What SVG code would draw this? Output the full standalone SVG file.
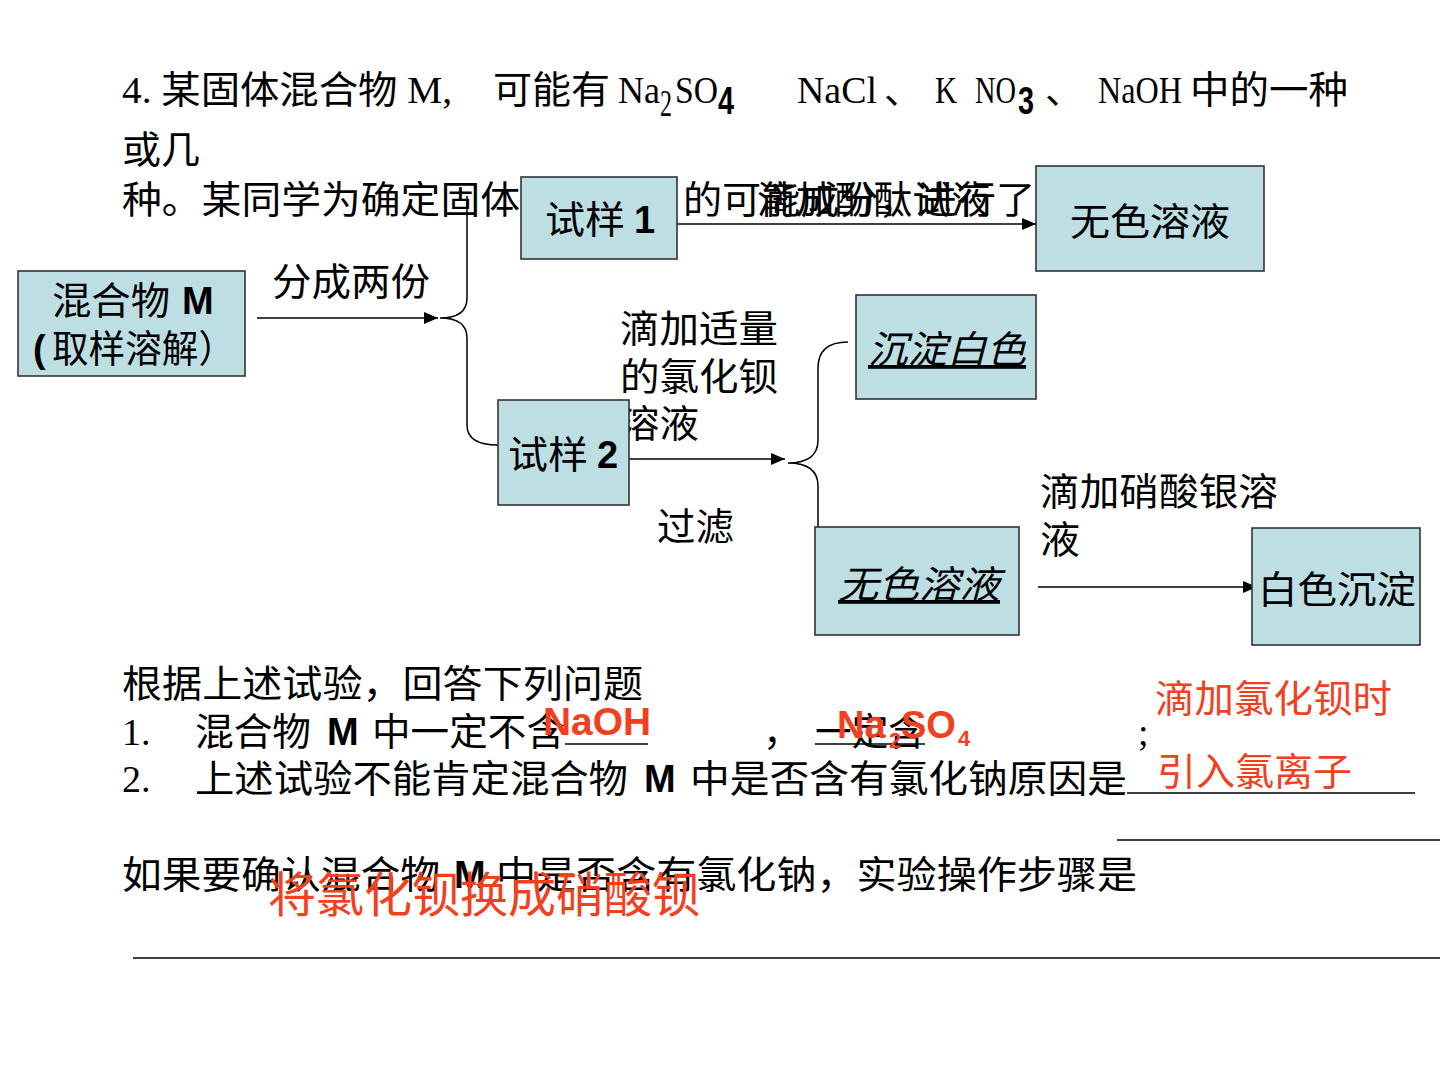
<svg xmlns="http://www.w3.org/2000/svg" width="1440" height="1080" viewBox="0 0 1440 1080">
  <defs>
    <marker id="arrow" viewBox="0 0 14 12" refX="14" refY="6" markerWidth="14" markerHeight="12" markerUnits="userSpaceOnUse" orient="auto">
      <path d="M0,0 L14,6 L0,12 Z" fill="#000"/>
    </marker>
    <style>
      .box { fill: #bddfe3; stroke: #333; stroke-width: 1.6; }
      .t { font-family: "Liberation Serif", "Noto Sans CJK SC", serif; font-size: 38px; fill: #000; }
      .s { font-family: "Liberation Sans", "Noto Sans CJK SC", sans-serif; font-size: 38px; fill: #000; }
      .b { font-family: "Liberation Sans", sans-serif; font-weight: bold; }
      .red { font-family: "Liberation Sans", "Noto Sans CJK SC", sans-serif; fill: #f2401e; }
      .conn { fill: none; stroke: #000; stroke-width: 1.5; }
      .rule { stroke: #000; stroke-width: 1.5; }
    </style>
  </defs>
  <rect width="1440" height="1080" fill="#fff"/>

  <!-- question text, top -->
  <g id="question-head">
    <text class="t" x="122" y="103" textLength="330" lengthAdjust="spacingAndGlyphs">4. 某固体混合物 M,</text>
    <text class="t" x="493" y="103" textLength="117" lengthAdjust="spacingAndGlyphs">可能有</text>
    <text class="t" x="618" y="103" font-size="36" textLength="42" lengthAdjust="spacingAndGlyphs">Na</text>
    <text class="t" x="660" y="116" font-size="26" textLength="12" lengthAdjust="spacingAndGlyphs">2</text>
    <text class="t" x="675" y="103" font-size="36" textLength="43" lengthAdjust="spacingAndGlyphs">SO</text>
    <text class="s b" x="718" y="114" font-size="30" textLength="16" lengthAdjust="spacingAndGlyphs">4</text>
    <text class="t" x="797" y="103" font-size="36" textLength="80" lengthAdjust="spacingAndGlyphs">NaCl</text>
    <text class="t" x="884" y="103">、</text>
    <text class="t" x="935" y="103" font-size="36" textLength="22" lengthAdjust="spacingAndGlyphs">K</text>
    <text class="t" x="975" y="103" font-size="36" textLength="41" lengthAdjust="spacingAndGlyphs">NO</text>
    <text class="s b" x="1018" y="114" font-size="30" textLength="16" lengthAdjust="spacingAndGlyphs">3</text>
    <text class="t" x="1045" y="103">、</text>
    <text class="t" x="1098" y="103" font-size="36" textLength="84" lengthAdjust="spacingAndGlyphs">NaOH</text>
    <text class="t" x="1190" y="103" textLength="158" lengthAdjust="spacingAndGlyphs">中的一种</text>
    <text class="t" x="122" y="163" textLength="78" lengthAdjust="spacingAndGlyphs">或几</text>
    <text class="t" x="122" y="213" textLength="398" lengthAdjust="spacingAndGlyphs">种。某同学为确定固体</text>
    <text class="t" x="683" y="213" textLength="352" lengthAdjust="spacingAndGlyphs">的可能成分，进行了</text>
  </g>

  <!-- connectors -->
  <g id="connectors">
    <line class="conn" x1="257" y1="318" x2="438" y2="318" marker-end="url(#arrow)"/>
    <path class="conn" d="M467,196 L467,298 Q467,318 440,318 Q467,318 467,338 L467,425 Q467,445 498,445"/>
    <line class="conn" x1="677" y1="224" x2="1036" y2="224" marker-end="url(#arrow)"/>
    <line class="conn" x1="629" y1="459" x2="785" y2="459" marker-end="url(#arrow)"/>
    <path class="conn" d="M848,342 Q818,342 818,368 L818,440 Q818,463 788,463 Q818,463 818,486 L818,565 Q818,585 840,587"/>
    <line class="conn" x1="1038" y1="587" x2="1257" y2="587" marker-end="url(#arrow)"/>
  </g>

  <!-- connector labels -->
  <g id="labels">
    <text class="s" x="757" y="213" textLength="233" lengthAdjust="spacingAndGlyphs">滴加酚酞试液</text>
    <text class="s" x="272" y="295" textLength="158" lengthAdjust="spacingAndGlyphs">分成两份</text>
    <text class="s" x="620" y="342" textLength="158" lengthAdjust="spacingAndGlyphs">滴加适量</text>
    <text class="s" x="620" y="390" textLength="158" lengthAdjust="spacingAndGlyphs">的氯化钡</text>
    <text class="s" x="620" y="437" textLength="79" lengthAdjust="spacingAndGlyphs">溶液</text>
    <text class="s" x="657" y="540" textLength="77" lengthAdjust="spacingAndGlyphs">过滤</text>
    <text class="s" x="1040" y="505" textLength="238" lengthAdjust="spacingAndGlyphs">滴加硝酸银溶</text>
    <text class="s" x="1040" y="553" textLength="40" lengthAdjust="spacingAndGlyphs">液</text>
  </g>

  <!-- nodes -->
  <g id="node-mixture">
    <rect class="box" x="18" y="271" width="227" height="105"/>
    <text class="s" x="52" y="314" textLength="118" lengthAdjust="spacingAndGlyphs">混合物</text>
    <text class="s b" x="182" y="314" font-size="34">M</text>
    <text class="s b" x="33" y="362" font-size="34">(</text>
    <text class="s" x="52" y="362" textLength="183" lengthAdjust="spacingAndGlyphs">取样溶解）</text>
  </g>

  <g id="node-sample1">
    <rect class="box" x="521" y="177" width="156" height="82"/>
    <text class="s" x="545" y="233" textLength="80" lengthAdjust="spacingAndGlyphs">试样</text>
    <text class="s b" x="634" y="233" font-size="34">1</text>
  </g>

  <g id="node-colorless-top">
    <rect class="box" x="1036" y="166" width="228" height="105"/>
    <text class="s" x="1070" y="235" textLength="160" lengthAdjust="spacingAndGlyphs">无色溶液</text>
  </g>

  <g id="node-white-ppt">
    <rect class="box" x="856" y="295" width="180" height="104"/>
    <text class="s" x="868" y="363" font-style="italic" text-decoration="underline" textLength="158" lengthAdjust="spacingAndGlyphs">沉淀白色</text>
  </g>

  <g id="node-sample2">
    <rect class="box" x="498" y="400" width="131" height="105"/>
    <text class="s" x="508" y="468" textLength="80" lengthAdjust="spacingAndGlyphs">试样</text>
    <text class="s b" x="597" y="468" font-size="34">2</text>
  </g>

  <g id="node-colorless-mid">
    <rect class="box" x="815" y="527" width="204" height="108"/>
    <text class="s" x="838" y="598" font-style="italic" text-decoration="underline" textLength="162" lengthAdjust="spacingAndGlyphs">无色溶液</text>
  </g>

  <g id="node-white-solid">
    <rect class="box" x="1252" y="528" width="168" height="117"/>
    <text class="s" x="1258" y="603" textLength="158" lengthAdjust="spacingAndGlyphs">白色沉淀</text>
  </g>

  <!-- questions and answers -->
  <g id="questions">
    <text class="t" x="122" y="697" textLength="521" lengthAdjust="spacingAndGlyphs">根据上述试验，回答下列问题</text>

    <text class="t" x="122" y="745">1.</text>
    <text class="t" x="195" y="745" textLength="116" lengthAdjust="spacingAndGlyphs">混合物</text>
    <text class="s b" x="327" y="745" font-size="34">M</text>
    <text class="t" x="372" y="745" textLength="193" lengthAdjust="spacingAndGlyphs">中一定不含</text>
    <line class="rule" x1="565" y1="744" x2="648" y2="744"/>
    <text class="t" x="763" y="745">，</text>
    <text class="t" x="815" y="745" textLength="110" lengthAdjust="spacingAndGlyphs">一定含</text>
    <line class="rule" x1="815" y1="744" x2="925" y2="744"/>
    <text class="t" x="1138" y="745">;</text>

    <text class="t" x="122" y="792">2.</text>
    <text class="t" x="195" y="792" textLength="433" lengthAdjust="spacingAndGlyphs">上述试验不能肯定混合物</text>
    <text class="s b" x="644" y="792" font-size="34">M</text>
    <text class="t" x="690" y="792" textLength="437" lengthAdjust="spacingAndGlyphs">中是否含有氯化钠原因是</text>
    <line class="rule" x1="1127" y1="793" x2="1415" y2="793"/>
    <line class="rule" x1="1117" y1="840" x2="1440" y2="840"/>

    <text class="t" x="122" y="888" textLength="318" lengthAdjust="spacingAndGlyphs">如果要确认混合物</text>
    <text class="s b" x="454" y="888" font-size="34">M</text>
    <text class="t" x="496" y="888" textLength="641" lengthAdjust="spacingAndGlyphs">中是否含有氯化钠，实验操作步骤是</text>
    <line class="rule" x1="133" y1="958" x2="1440" y2="958"/>
  </g>

  <g id="answers">
    <text class="red b" x="543" y="735" font-size="38" textLength="108" lengthAdjust="spacingAndGlyphs">NaOH</text>
    <text class="red b" x="837" y="738" font-size="38">Na</text>
    <text class="red b" x="889" y="748" font-size="22">2</text>
    <text class="red b" x="901" y="738" font-size="38">SO</text>
    <text class="red b" x="958" y="746" font-size="22">4</text>
    <text class="red" x="1155" y="712" font-size="38" textLength="237" lengthAdjust="spacingAndGlyphs">滴加氯化钡时</text>
    <text class="red" x="1157" y="785" font-size="38" textLength="195" lengthAdjust="spacingAndGlyphs">引入氯离子</text>
    <text class="red" x="268" y="912" font-size="48" textLength="432" lengthAdjust="spacingAndGlyphs">将氯化钡换成硝酸钡</text>
  </g>
</svg>
